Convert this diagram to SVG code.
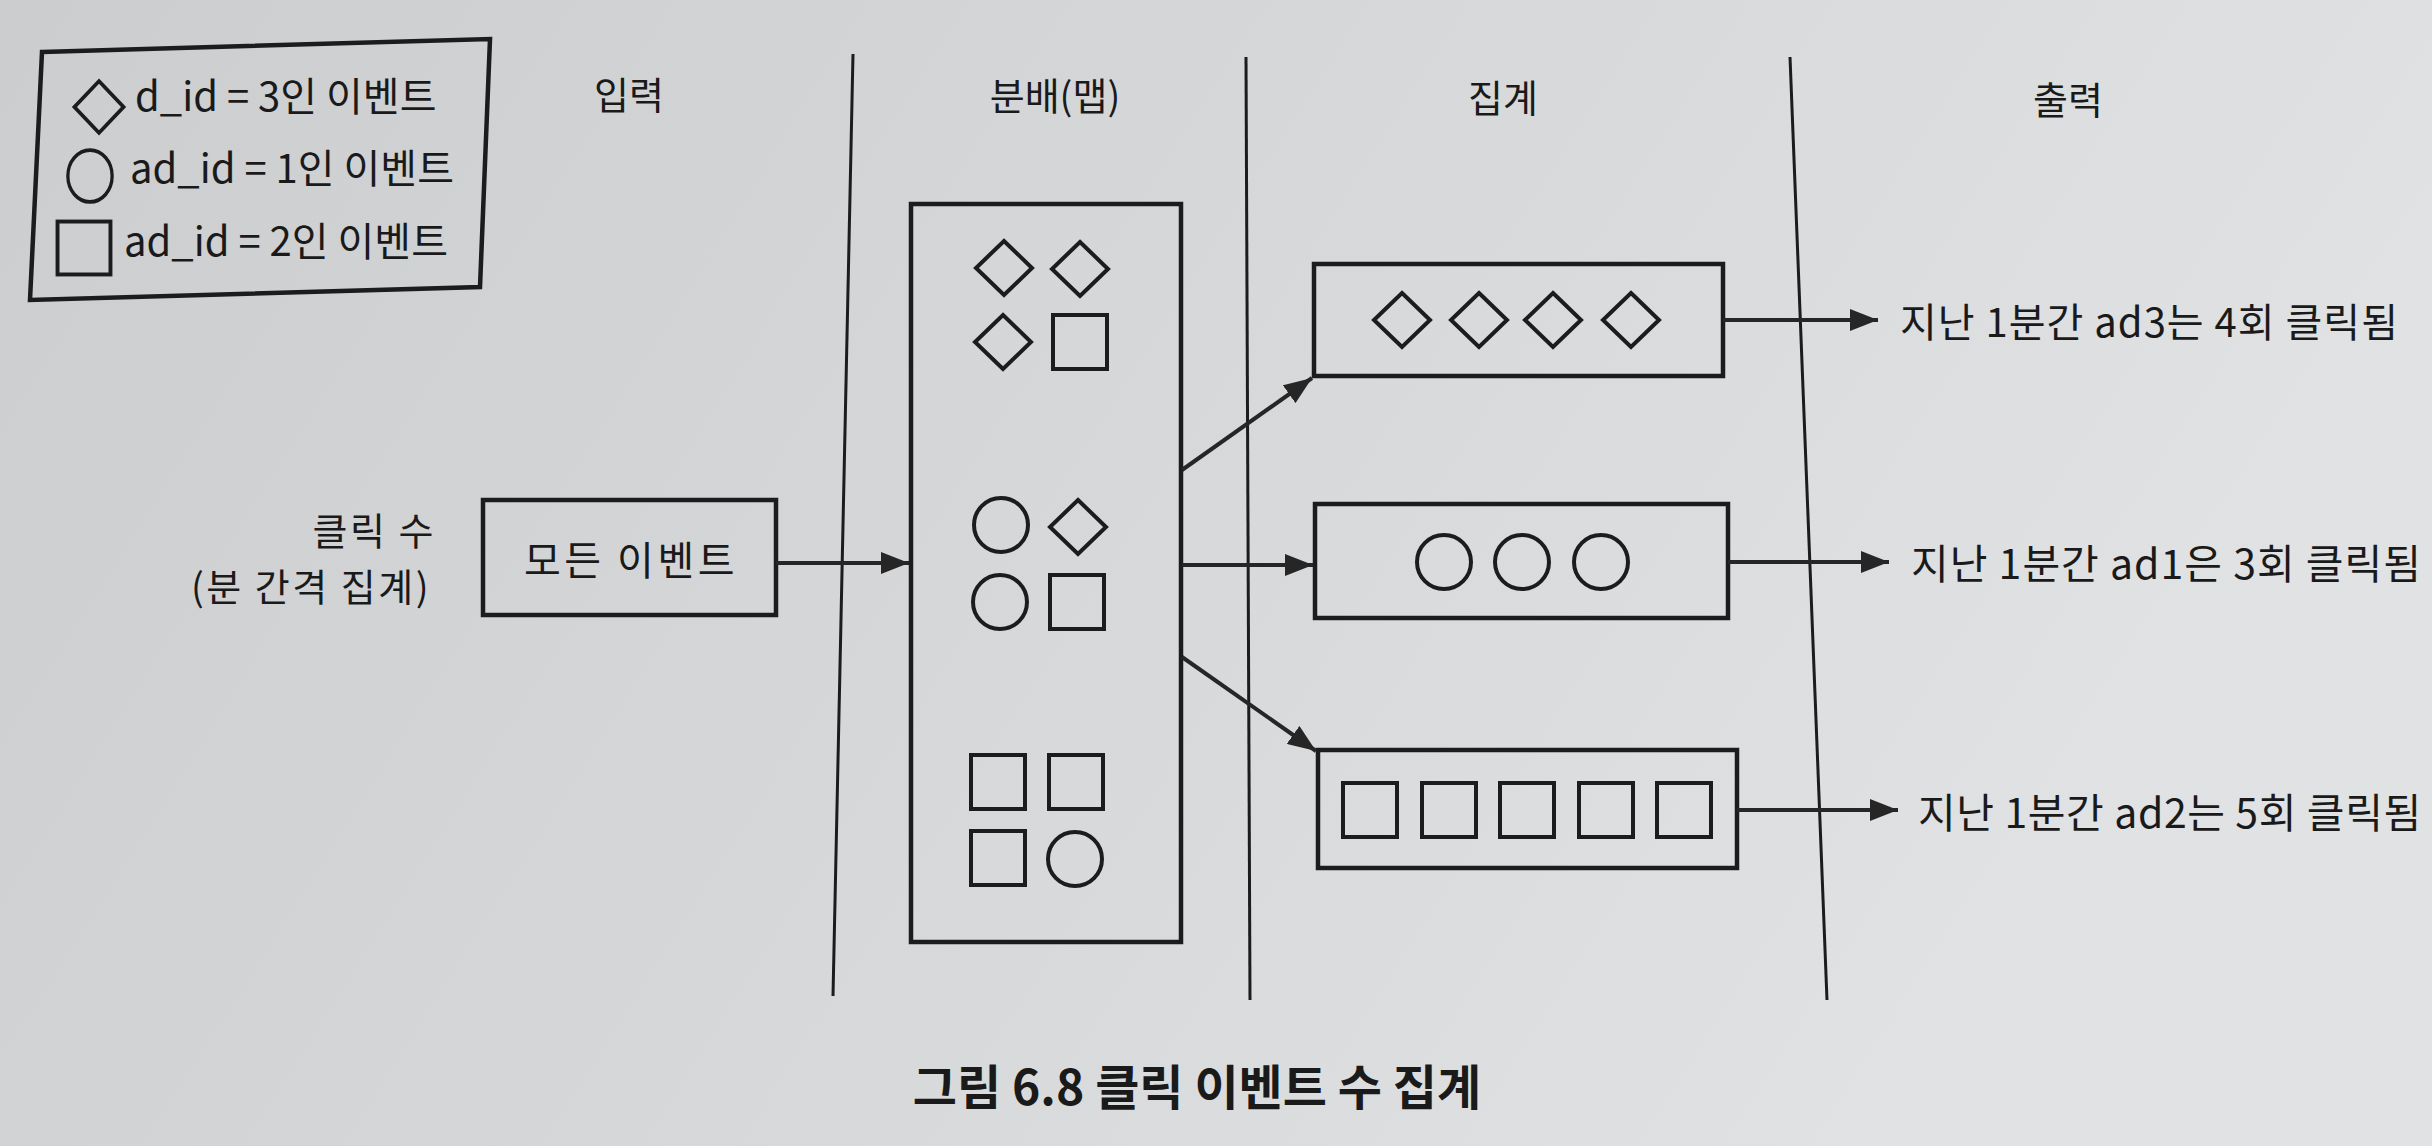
<svg xmlns="http://www.w3.org/2000/svg" width="2432" height="1146" viewBox="0 0 2432 1146">
<defs>
<linearGradient id="bg" x1="0" y1="0" x2="1" y2="0.3">
<stop offset="0" stop-color="#cbcdcf"/>
<stop offset="0.6" stop-color="#d8d9db"/>
<stop offset="1" stop-color="#e1e2e4"/>
</linearGradient>
<marker id="arr" markerUnits="userSpaceOnUse" markerWidth="30" markerHeight="22" refX="28" refY="11" orient="auto">
<path d="M0,0 L28,11 L0,22 z" fill="#262626"/>
</marker>
<path id="dia" d="M0,-27 L28,0 L0,27 L-28,0 z"/>
<rect id="sq" x="-27" y="-27" width="54" height="54"/>
<ellipse id="ci" cx="0" cy="0" rx="27" ry="27"/>
</defs>
<style>
.shape{fill:none;stroke:#1c1c1c;stroke-width:4}
.box{fill:none;stroke:#1c1c1c;stroke-width:4.5}
.div{stroke:#1c1c1c;stroke-width:3;fill:none}
.conn{stroke:#262626;stroke-width:4;fill:none;marker-end:url(#arr)}
.t{font-family:"Noto Sans CJK KR","Noto Sans",sans-serif;font-size:40px;fill:#1a1a1a}
.o{letter-spacing:1px}
.w{letter-spacing:3.5px}
.h{font-family:"Noto Sans CJK KR","Noto Sans",sans-serif;font-size:38px;fill:#1a1a1a;text-anchor:middle}
.cap{font-family:"Noto Sans CJK KR","Noto Sans",sans-serif;font-size:48px;font-weight:bold;fill:#1a1a1a;text-anchor:middle}
</style>
<rect width="2432" height="1146" fill="url(#bg)"/>

<g id="dividers">
<line class="div" x1="853" y1="54" x2="833" y2="996"/>
<line class="div" x1="1246" y1="57" x2="1250" y2="1000"/>
<line class="div" x1="1790" y1="57" x2="1827" y2="1000"/>
</g>

<g id="headers">
<text class="h" x="629" y="109">입력</text>
<text class="h" x="1055" y="110">분배(맵)</text>
<text class="h" x="1503" y="112">집계</text>
<text class="h" x="2068" y="114">출력</text>
</g>

<g id="legend">
<polygon class="box" points="42,52 490,39 480,287 30,300"/>
<use href="#dia" class="shape" transform="translate(99,107) scale(0.88,0.96)"/>
<text class="t" x="135" y="111">d_id = 3인 이벤트</text>
<use href="#ci" class="shape" transform="translate(90,176) scale(0.82,0.96)"/>
<text class="t" x="130" y="183">ad_id = 1인 이벤트</text>
<use href="#sq" class="shape" transform="translate(84,248) scale(0.98,0.98)"/>
<text class="t" x="124" y="256">ad_id = 2인 이벤트</text>
</g>

<g id="label-clicks">
<text class="t" text-anchor="end" style="font-size:38px;letter-spacing:2.5px"><tspan x="436" y="545">클릭 수</tspan><tspan x="431" y="601">(분 간격 집계)</tspan></text>
</g>

<g id="node-all-events">
<rect class="box" x="483" y="500" width="293" height="115"/>
<text class="t w" x="631" y="575" text-anchor="middle">모든 이벤트</text>
</g>

<g id="node-map">
<rect class="box" x="911" y="204" width="270" height="738"/>
<use href="#dia" class="shape" transform="translate(1004,268)"/>
<use href="#dia" class="shape" transform="translate(1080,269)"/>
<use href="#dia" class="shape" transform="translate(1003,342)"/>
<use href="#sq" class="shape" transform="translate(1080,342)"/>
<use href="#ci" class="shape" transform="translate(1001,525)"/>
<use href="#dia" class="shape" transform="translate(1078,527)"/>
<use href="#ci" class="shape" transform="translate(1000,602)"/>
<use href="#sq" class="shape" transform="translate(1077,602)"/>
<use href="#sq" class="shape" transform="translate(998,782)"/>
<use href="#sq" class="shape" transform="translate(1076,782)"/>
<use href="#sq" class="shape" transform="translate(998,858)"/>
<use href="#ci" class="shape" transform="translate(1075,859)"/>
</g>

<g id="node-agg-ad3">
<rect class="box" x="1314" y="264" width="409" height="112"/>
<use href="#dia" class="shape" transform="translate(1402,320)"/>
<use href="#dia" class="shape" transform="translate(1479,320)"/>
<use href="#dia" class="shape" transform="translate(1553,320)"/>
<use href="#dia" class="shape" transform="translate(1631,320)"/>
</g>

<g id="node-agg-ad1">
<rect class="box" x="1315" y="504" width="413" height="114"/>
<use href="#ci" class="shape" transform="translate(1444,562)"/>
<use href="#ci" class="shape" transform="translate(1522,562)"/>
<use href="#ci" class="shape" transform="translate(1601,562)"/>
</g>

<g id="node-agg-ad2">
<rect class="box" x="1318" y="750" width="419" height="118"/>
<use href="#sq" class="shape" transform="translate(1370,810)"/>
<use href="#sq" class="shape" transform="translate(1449,810)"/>
<use href="#sq" class="shape" transform="translate(1527,810)"/>
<use href="#sq" class="shape" transform="translate(1606,810)"/>
<use href="#sq" class="shape" transform="translate(1684,810)"/>
</g>

<g id="node-out-ad3"><text class="t o" x="1900" y="337">지난 1분간 ad3는 4회 클릭됨</text></g>
<g id="node-out-ad1"><text class="t o" x="1911" y="579" style="font-size:41px">지난 1분간 ad1은 3회 클릭됨</text></g>
<g id="node-out-ad2"><text class="t" x="1918" y="828" style="font-size:41px;letter-spacing:0.6px">지난 1분간 ad2는 5회 클릭됨</text></g>

<g id="connectors">
<line class="conn" x1="776" y1="563" x2="909" y2="563"/>
<line class="conn" x1="1182" y1="470" x2="1312" y2="378"/>
<line class="conn" x1="1182" y1="565" x2="1313" y2="565"/>
<line class="conn" x1="1182" y1="657" x2="1316" y2="751"/>
<line class="conn" x1="1723" y1="320" x2="1878" y2="320"/>
<line class="conn" x1="1728" y1="562" x2="1889" y2="562"/>
<line class="conn" x1="1737" y1="810" x2="1898" y2="810"/>
</g>

<text class="cap" x="1197" y="1105">그림 6.8 클릭 이벤트 수 집계</text>
</svg>
